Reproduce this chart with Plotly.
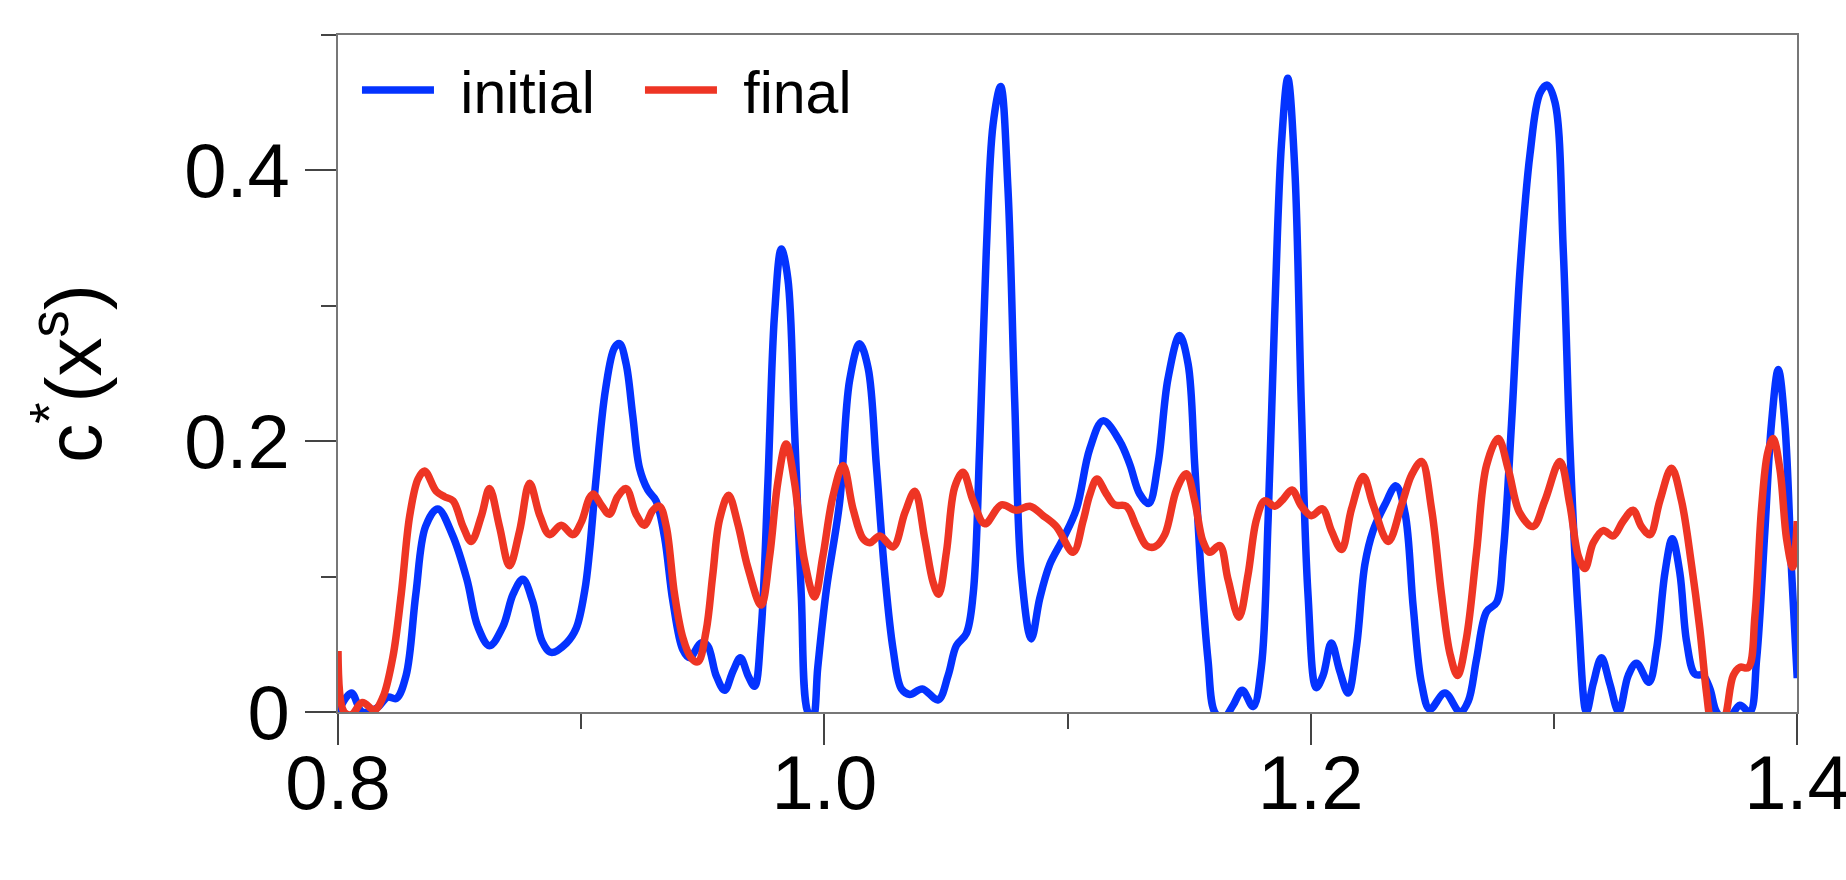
import plotly.graph_objects as go

# ---- data ----
x_initial = [0.800, 0.8055, 0.810, 0.816, 0.8205, 0.824, 0.828, 0.832, 0.836, 0.841, 0.847, 0.853, 0.8575, 0.8623,
             0.8678, 0.872, 0.876, 0.880, 0.884, 0.8877, 0.894, 0.898, 0.9015, 0.9034, 0.906, 0.910, 0.9137, 0.9158,
             0.9185, 0.9212, 0.924, 0.9274, 0.9308, 0.9343, 0.9377, 0.9418, 0.9446, 0.9493, 0.952, 0.9555, 0.959,
             0.9624, 0.9655, 0.9686, 0.9713, 0.974, 0.9768, 0.9795, 0.9823, 0.985, 0.9877, 0.9905, 0.9932, 0.9953,
             0.9973, 1.0008, 1.0063, 1.0104, 1.0145, 1.018, 1.0214, 1.0248, 1.0283, 1.0317, 1.0351, 1.0403, 1.0468,
             1.0509, 1.0543, 1.0584, 1.0612, 1.0639, 1.0666, 1.0694, 1.0725, 1.0755, 1.0783, 1.081, 1.0851, 1.0886,
             1.0927, 1.0982, 1.1037, 1.1091, 1.1146, 1.1215, 1.1256, 1.1297, 1.1334, 1.1372, 1.1413, 1.1461, 1.1496,
             1.1523, 1.155, 1.1578, 1.1605, 1.164, 1.1681, 1.1719, 1.1763, 1.1797, 1.1825, 1.1852, 1.188, 1.1906,
             1.1935, 1.1962, 1.1989, 1.2023, 1.2051, 1.2085, 1.212, 1.2154, 1.2189, 1.2223, 1.2257, 1.2305, 1.2351,
             1.2388, 1.2422, 1.2456, 1.249, 1.2552, 1.2614, 1.2648, 1.2682, 1.2723, 1.2765, 1.2792, 1.2826, 1.286,
             1.2902, 1.2943, 1.2973, 1.3005, 1.3039, 1.3066, 1.3101, 1.3134, 1.3162, 1.3196, 1.323, 1.3267, 1.3306,
             1.334, 1.3391, 1.3422, 1.3457, 1.3487, 1.3518, 1.3546, 1.358, 1.3614, 1.3642, 1.3669, 1.371, 1.3765,
             1.3806, 1.3834, 1.3868, 1.3895, 1.3923, 1.395, 1.3978, 1.4001]
c_initial = [0.000, 0.014, 0.000, 0.003, 0.011, 0.010, 0.027, 0.087, 0.137, 0.150, 0.131, 0.098, 0.063, 0.049,
             0.063, 0.087, 0.098, 0.082, 0.052, 0.044, 0.051, 0.062, 0.090, 0.118, 0.170, 0.238, 0.269, 0.272,
             0.257, 0.219, 0.180, 0.164, 0.156, 0.129, 0.082, 0.046, 0.040, 0.051, 0.049, 0.027, 0.016,
             0.030, 0.040, 0.027, 0.019, 0.060, 0.170, 0.293, 0.342, 0.320, 0.211, 0.087, 0.000, -0.004,
             0.033, 0.090, 0.155, 0.245, 0.272, 0.254, 0.182, 0.103, 0.046, 0.017, 0.013, 0.017, 0.009,
             0.027, 0.049, 0.058, 0.087, 0.197, 0.340, 0.434, 0.462, 0.387, 0.229, 0.103, 0.054, 0.084,
             0.109, 0.128, 0.150, 0.194, 0.215, 0.200, 0.183, 0.161, 0.154, 0.183, 0.246, 0.278, 0.257,
             0.183, 0.101, 0.038, 0.000, -0.005, 0.005, 0.016, 0.004, 0.033, 0.142, 0.293, 0.420, 0.468,
             0.400, 0.224, 0.087, 0.018, 0.027, 0.051, 0.030, 0.014, 0.049, 0.109, 0.134, 0.153, 0.167,
             0.147, 0.077, 0.021, 0.002, 0.014, 0.000, 0.008, 0.039, 0.074, 0.081, 0.118, 0.213, 0.324,
             0.412, 0.457, 0.463, 0.450, 0.340, 0.197, 0.071, 0.000, 0.021, 0.040, 0.021, 0.000, 0.027,
             0.036, 0.022, 0.046, 0.103, 0.128, 0.103, 0.052, 0.028, 0.027, 0.017, 0.000, -0.007, 0.005,
             0.000, 0.039, 0.134, 0.213, 0.253, 0.213, 0.103, 0.025]

x_final = [0.800, 0.8025, 0.8055, 0.810, 0.815, 0.8185, 0.8226, 0.826, 0.8295, 0.8329, 0.8356, 0.8404, 0.8438,
           0.8473, 0.8514, 0.8548, 0.859, 0.8623, 0.8664, 0.8705, 0.8747, 0.8788, 0.883, 0.887, 0.8918, 0.8966,
           0.9000, 0.9034, 0.905, 0.9082, 0.9116, 0.915, 0.9185, 0.9226, 0.926, 0.9295, 0.9322, 0.935, 0.9384,
           0.9418, 0.9452, 0.948, 0.9514, 0.9541, 0.9569, 0.9606, 0.9644, 0.9685, 0.974, 0.9775, 0.9809, 0.9843,
           0.9877, 0.9918, 0.996, 0.9994, 1.0035, 1.0077, 1.0118, 1.0159, 1.0187, 1.0228, 1.0283, 1.0331, 1.0372,
           1.0413, 1.0447, 1.0470, 1.0502, 1.0536, 1.057, 1.0612, 1.0660, 1.0728, 1.0790, 1.0845, 1.09, 1.0954,
           1.1023, 1.1064, 1.1091, 1.1121, 1.116, 1.1194, 1.1242, 1.1283, 1.1324, 1.1359, 1.14, 1.1448, 1.1489,
           1.1523, 1.1557, 1.1585, 1.1626, 1.1660, 1.1705, 1.1742, 1.1777, 1.1811, 1.1852, 1.1886, 1.1923, 1.1962,
           1.2003, 1.2048, 1.2085, 1.2127, 1.2168, 1.2216, 1.2257, 1.2319, 1.2374, 1.2415, 1.2456, 1.2497, 1.2538,
           1.2573, 1.2604, 1.2641, 1.2682, 1.2723, 1.2771, 1.2813, 1.286, 1.2915, 1.2963, 1.3025, 1.3066, 1.3101,
           1.3128, 1.3162, 1.3203, 1.3244, 1.3285, 1.3326, 1.336, 1.3395, 1.3436, 1.3484, 1.3525, 1.3566, 1.36,
           1.3628, 1.3649, 1.3683, 1.371, 1.3738, 1.3765, 1.38, 1.3827, 1.3854, 1.3879, 1.3902, 1.393, 1.3957,
           1.3982, 1.4001]
c_final = [0.045, 0.000, -0.002, 0.007, 0.0015, 0.011, 0.041, 0.087, 0.145, 0.172, 0.178, 0.163, 0.159,
           0.156, 0.137, 0.126, 0.145, 0.165, 0.137, 0.108, 0.134, 0.169, 0.145, 0.131, 0.138, 0.131,
           0.140, 0.158, 0.161, 0.153, 0.146, 0.159, 0.165, 0.146, 0.138, 0.149, 0.152, 0.137, 0.087,
           0.055, 0.040, 0.037, 0.060, 0.101, 0.142, 0.160, 0.139, 0.107, 0.079, 0.115, 0.170, 0.198,
           0.170, 0.112, 0.085, 0.115, 0.159, 0.182, 0.150, 0.128, 0.125, 0.130, 0.122, 0.147, 0.163,
           0.128, 0.096, 0.087, 0.118, 0.166, 0.177, 0.156, 0.139, 0.153, 0.149, 0.152, 0.145, 0.137,
           0.118, 0.141, 0.160, 0.172, 0.161, 0.153, 0.152, 0.137, 0.123, 0.122, 0.131, 0.164, 0.176,
           0.156, 0.126, 0.118, 0.123, 0.098, 0.070, 0.101, 0.142, 0.156, 0.152, 0.157, 0.164, 0.152,
           0.145, 0.150, 0.134, 0.120, 0.150, 0.174, 0.153, 0.126, 0.153, 0.175, 0.185, 0.150, 0.087,
           0.043, 0.027, 0.055, 0.118, 0.182, 0.202, 0.179, 0.147, 0.137, 0.156, 0.185, 0.153, 0.115,
           0.106, 0.125, 0.134, 0.130, 0.141, 0.149, 0.137, 0.131, 0.156, 0.180, 0.156, 0.109, 0.062,
           0.014, -0.010, -0.020, 0.000, 0.027, 0.033, 0.033, 0.071, 0.150, 0.191, 0.202, 0.179, 0.128,
           0.107, 0.141]

x_ticks = [0.8, 1.0, 1.2, 1.4]
x_tick_labels = ["0.8", "1.0", "1.2", "1.4"]
x_minor = [0.9, 1.1, 1.3]
y_ticks = [0, 0.2, 0.4]
y_tick_labels = ["0", "0.2", "0.4"]
y_minor = [0.1, 0.3, 0.5]

BLUE = "#0433FF"
RED = "#EE3524"
FONT = "Liberation Sans, Arial, Helvetica, sans-serif"

fig = go.Figure()
fig.add_trace(go.Scatter(x=x_initial, y=c_initial, mode="lines", name="\u00a0\u200ainitial",
                         line=dict(color=BLUE, width=7.5, shape="spline", smoothing=1.0)))
fig.add_trace(go.Scatter(x=x_final, y=c_final, mode="lines", name="\u00a0\u200afinal",
                         line=dict(color=RED, width=7.5, shape="spline", smoothing=1.0)))

axis_common = dict(
    showgrid=False, zeroline=False, showline=True, linecolor="#777777", linewidth=2,
    mirror=True, ticks="outside", ticklen=31, tickwidth=1.5, tickcolor="#444444",
    tickfont=dict(size=76, color="black", family=FONT), automargin=False,
)

fig.update_xaxes(range=[0.8, 1.4], tickmode="array", tickvals=x_ticks, ticktext=x_tick_labels,
                 ticklabeloverflow="allow", ticklabelstandoff=-27,
                 minor=dict(tickvals=x_minor, ticks="outside", ticklen=15, tickwidth=1.5, tickcolor="#444444"),
                 **axis_common)
fig.update_yaxes(range=[0, 0.5], tickmode="array", tickvals=y_ticks, ticktext=y_tick_labels,
                 minor=dict(tickvals=y_minor, ticks="outside", ticklen=15, tickwidth=1.5, tickcolor="#444444"),
                 title=dict(text="c<sup>*</sup>(x<sup>s</sup>)", font=dict(size=78, color="black", family=FONT),
                            standoff=57),
                 **axis_common)

fig.update_layout(
    width=1846, height=880,
    margin=dict(l=338, r=49, t=35, b=168, autoexpand=False),
    plot_bgcolor="white", paper_bgcolor="white",
    font=dict(family=FONT, color="black"),
    legend=dict(orientation="h", x=0.013, y=0.985, xanchor="left", yanchor="top",
                font=dict(size=59, color="black", family=FONT), itemwidth=72, entrywidth=196,
                bgcolor="rgba(0,0,0,0)", borderwidth=0),
)

fig.write_html("out.html")
